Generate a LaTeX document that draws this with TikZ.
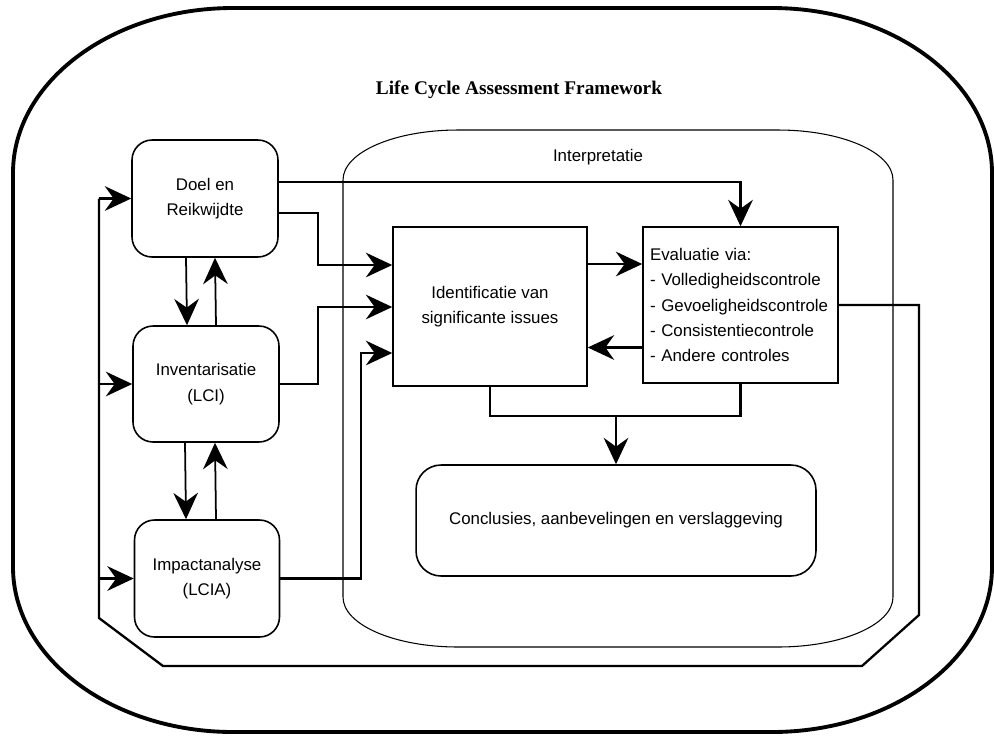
\documentclass[tikz,border=0pt]{standalone}
\usepackage{fontspec}
\setmainfont{Liberation Sans}
\newfontfamily\titlefont{Liberation Serif}
\usetikzlibrary{arrows.meta}

\begin{document}
\begin{tikzpicture}[x=0.02cm, y=-0.02cm,
            >={Stealth[length=15pt, width=14pt, inset=5pt]},
            every node/.style={font=\fontsize{9.6}{14.5}\selectfont},
            phase/.style={draw, line width=0.9pt, rounded corners=0.4cm, fill=white, align=center,
                minimum width=2.92cm, minimum height=2.34cm},
            sqbox/.style={draw, line width=0.9pt, fill=white},
            conn/.style={->, line width=1.4pt},
            vconn/.style={->, line width=1pt}]
            \useasboundingbox (0,0) rectangle (994,735);

            \draw[line width=2.2pt] (233,8) -- (772,8) .. controls (893,8) and (992,82) .. (992,173)
                -- (992,567) .. controls (992,658) and (893,732) .. (772,732)
                -- (233,732) .. controls (112,732) and (13,658) .. (13,567)
                -- (13,173) .. controls (13,82) and (112,8) .. (233,8) -- cycle;
            \draw[line width=0.6pt] (458,130) -- (778,130) .. controls (841,130) and (893,152) .. (893,180)
                -- (893,597) .. controls (893,625) and (841,647) .. (778,647)
                -- (458,647) .. controls (395,647) and (343,625) .. (343,597)
                -- (343,180) .. controls (343,152) and (395,130) .. (458,130) -- cycle;

            \node[font=\titlefont\bfseries\fontsize{11}{13}\selectfont] (title) at (519,90) {Life Cycle Assessment Framework};
            \node (interplabel) at (598,157) {Interpretatie};

            \node[phase] (doel) at (205,198.5) {Doel en\\Reikwijdte};
            \node[phase, minimum height=2.32cm] (inv) at (206,384) {Inventarisatie\\(LCI)};
            \node[phase, minimum width=2.9cm] (impact) at (207,578.5) {Impactanalyse\\(LCIA)};
            \node[sqbox, align=center, minimum width=3.88cm, minimum height=3.18cm] (ident) at (490,306.5)
                {Identificatie van\\significante issues};
            \node[sqbox, align=left, text width=3.62cm, inner xsep=0.14cm, minimum height=3.12cm] (eval) at (740.5,305)
                {Evaluatie via:\\- Volledigheidscontrole\\- Gevoeligheidscontrole\\- Consistentiecontrole\\- Andere controles};
            \node[phase, minimum width=8cm, minimum height=2.22cm, rounded corners=0.5cm] (concl) at (616,520.5)
                {Conclusies, aanbevelingen en verslaggeving};

            \draw[vconn] ([xshift=-0.38cm]doel.south) -- ([xshift=-0.38cm]inv.north);
            \draw[vconn] ([xshift=0.2cm]inv.north) -- ([xshift=0.2cm]doel.south);
            \draw[vconn] ([xshift=-0.42cm]inv.south) -- ([xshift=-0.42cm]impact.north);
            \draw[vconn] ([xshift=0.18cm]impact.north) -- ([xshift=0.18cm]inv.south);

            \coordinate (d1) at (318,265);
            \coordinate (d2) at (318,307);
            \coordinate (d3) at (361,353);
            \draw[conn] ([yshift=0.33cm]doel.east) -| (eval.north);
            \draw[conn] ([yshift=-0.29cm]doel.east) -| (d1) -- (d1 -| ident.west);
            \draw[conn] (inv.east) -| (d2) -- (d2 -| ident.west);
            \draw[conn] (impact.east) -| (d3) -- (d3 -| ident.west);

            \draw[conn] ([yshift=0.85cm]ident.east) -- ([yshift=0.85cm]ident.east -| eval.west);
            \draw[conn] ([yshift=-0.85cm]eval.west) -- ([yshift=-0.85cm]eval.west -| ident.east);

            \coordinate (m) at (616,416);
            \draw[line width=1.4pt] (ident.south) |- (m) -| (eval.south);
            \draw[conn] (m) -- (concl.north);

            \coordinate (f1) at (919,305);
            \coordinate (f2) at (919,615);
            \coordinate (f3) at (862,666);
            \coordinate (f4) at (163,666);
            \coordinate (f5) at (99,618);
            \coordinate (f6) at (99,198.5);
            \draw[line width=1.3pt] (eval.east) -- (f1) -- (f2) -- (f3) -- (f4) -- (f5) -- (f6);
            \foreach \n in {doel, inv, impact}
                \draw[conn] (f5 |- \n.west) -- (\n.west);

        \end{tikzpicture}
\end{document}
